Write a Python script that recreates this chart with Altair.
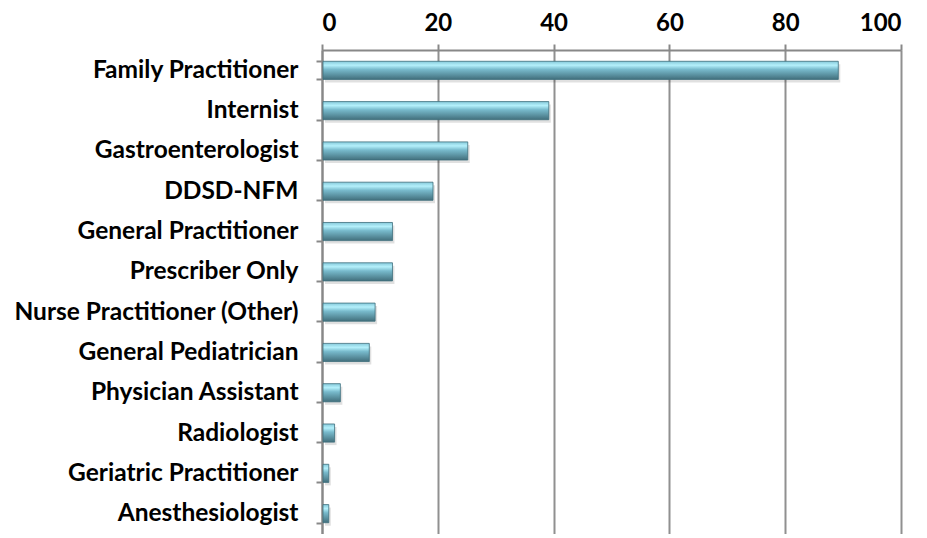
import altair as alt
import pandas as pd

categories = [
    "Family Practitioner", "Internist", "Gastroenterologist", "DDSD-NFM",
    "General Practitioner", "Prescriber Only", "Nurse Practitioner (Other)",
    "General Pediatrician", "Physician Assistant", "Radiologist",
    "Geriatric Practitioner", "Anesthesiologist",
]
values = [89, 39, 25, 19, 12, 12, 9, 8, 3, 2, 1, 1]
x_ticks = [0, 20, 40, 60, 80, 100]

df = pd.DataFrame({"cat": categories, "val": values})

grad = alt.Gradient(
    gradient="linear", x1=0, y1=0, x2=0, y2=1,
    stops=[
        alt.GradientStop(offset=0, color="#86C9DA"),
        alt.GradientStop(offset=0.22, color="#B4F0FB"),
        alt.GradientStop(offset=0.45, color="#78BACC"),
        alt.GradientStop(offset=1, color="#426F7C"),
    ],
)

y_enc = alt.Y(
    "cat:N", sort=categories, title=None,
    scale=alt.Scale(paddingInner=0.55, paddingOuter=0.28),
    axis=alt.Axis(
        labelFont="Lato", labelFontWeight="bold", labelFontSize=24.5,
        labelColor="#000000", tickBand="extent", tickSize=6, tickWidth=2,
        tickColor="#888888", domainColor="#888888", domainWidth=2,
        labelPadding=18, labelLimit=500, grid=False,
    ),
)
x_enc = alt.X(
    "val:Q", title=None,
    scale=alt.Scale(domain=[0, 100], nice=False),
    axis=alt.Axis(
        orient="top", values=x_ticks, labelFont="Lato", labelFontWeight="bold",
        labelFontSize=24, labelColor="#000000", tickSize=6, tickWidth=2,
        tickColor="#888888", domainColor="#888888", domainWidth=2,
        gridColor="#909090", gridWidth=2, labelPadding=9,
        labelFlush=True, labelFlushOffset=0,
    ),
)

shadow = alt.Chart(df).mark_bar(
    color="#000000", opacity=0.12, xOffset=3, yOffset=3
).encode(x=x_enc, y=y_enc)

bars = alt.Chart(df).mark_bar(
    fill=grad, stroke="#3E6F7C", strokeWidth=0.8, xOffset=1
).encode(x=x_enc, y=y_enc)

chart = (shadow + bars).properties(
    width=579, height=484,
    padding={"left": 5, "top": 3, "right": 5, "bottom": 0},
).configure_view(stroke=None).configure(background="white")

chart.save("out.html", embed_options={"renderer": "svg", "actions": False})
